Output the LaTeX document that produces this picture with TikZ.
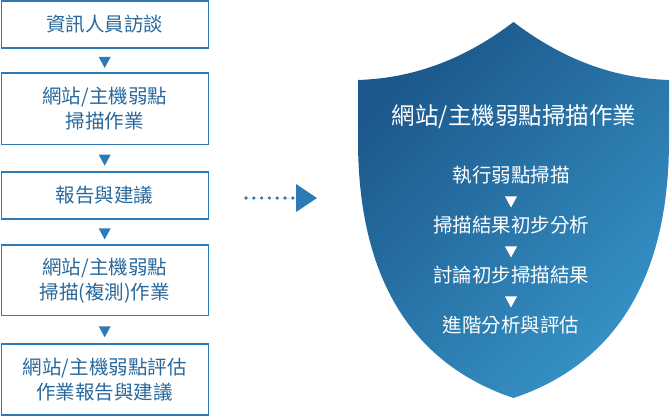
\documentclass[tikz,border=0pt]{standalone}
\usepackage{fontspec}
\newfontfamily\cjk{Noto Sans CJK TC}
\usetikzlibrary{arrows.meta,positioning,calc,shapes.geometric}
\definecolor{boxblue}{RGB}{44,123,182}
\definecolor{txtblue}{RGB}{40,104,156}
\definecolor{shielddark}{RGB}{28,88,140}
\definecolor{shieldlight}{RGB}{54,146,198}
\tikzset{
  stepbox/.style={draw=boxblue,line width=1.3pt,minimum width=207pt,
             inner sep=0pt,align=center,text=txtblue,
             font=\cjk\fontsize{19.5}{25}\selectfont},
  downtri/.style={isosceles triangle,isosceles triangle stretches,
             shape border rotate=-90,fill=boxblue,minimum width=12pt,
             minimum height=11pt,inner sep=0pt},
  shtext/.style={text=white,inner sep=0pt,
             font=\cjk\fontsize{19.5}{25}\selectfont},
  dotarrow/.style={draw=boxblue,fill=boxblue,line width=3.6pt,line cap=round,
             dash pattern=on 0pt off 7.8pt,
             -{Triangle[length=21pt,width=28pt,line width=0pt]}}}

\begin{document}
\begin{tikzpicture}[x=1pt,y=-1pt]
  \useasboundingbox (0,0) rectangle (671,416);
  % steps on the left
  \node[stepbox,minimum height=47pt] (b1) at (104.7,24.5) {資訊人員訪談};
  \node[stepbox,minimum height=71.5pt] (b2) at (104.7,108.7) {網站/主機弱點\\掃描作業};
  \node[stepbox,minimum height=47pt] (b3) at (104.7,195.5) {報告與建議};
  \node[stepbox,minimum height=70.7pt] (b4) at (104.7,280.3) {網站/主機弱點\\掃描(複測)作業};
  \node[stepbox,minimum height=71pt] (b5) at (104.7,379.5) {網站/主機弱點評估\\作業報告與建議};
  \foreach \a/\b in {b1/b2,b2/b3,b3/b4,b4/b5}
    \node[downtri] (t-\a) at ($(\a.south)!0.5!(\b.north)$) {};

  % dotted arrow
  \coordinate (dots) at (246,198);
  \coordinate (head) at (317,198);
  \draw[dotarrow] (dots) -- (head);

  % shield
  \shade[left color=shielddark,right color=shieldlight,shading angle=45]
    (358,80) .. controls (420,78) and (470,55) .. (513.5,22)
    .. controls (557,55) and (607,78) .. (669,80)
    -- (669,140) .. controls (669,300) and (597,370) .. (513.5,398)
    .. controls (430,370) and (358,300) .. (358,140) -- cycle;
  \node[shtext,font=\cjk\fontsize{23.5}{28}\selectfont] (title) at (514,117) {網站/主機弱點掃描作業};
  \node[shtext] (s1) at (511,175) {執行弱點掃描};
  \node[shtext] (s2) at (511,225) {掃描結果初步分析};
  \node[shtext] (s3) at (511,275) {討論初步掃描結果};
  \node[shtext] (s4) at (511,325) {進階分析與評估};
  \foreach \a/\b in {s1/s2,s2/s3,s3/s4}
    \node[downtri,fill=white] (t-\a) at ($(\a)!0.5!(\b)$) {};
\end{tikzpicture}
\end{document}
